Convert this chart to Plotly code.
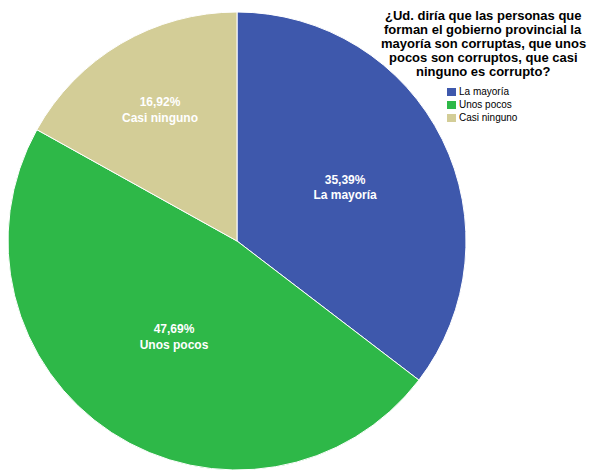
import plotly.graph_objects as go

categories = ["La mayoría", "Unos pocos", "Casi ninguno"]
percent = [35.39, 47.69, 16.92]
percent_text = ["35,39%", "47,69%", "16,92%"]
colors = ["#3e58ac", "#2eb848", "#d3cd97"]

title_lines = [
    "¿Ud. diría que las personas que",
    "forman el gobierno provincial la",
    "mayoría son corruptas, que unos",
    "pocos son corruptos, que casi",
    "ninguno es corrupto?",
]

W, H = 598, 471
M_T = 4
FONT = "Liberation Sans, Arial"


def px(x):
    # page pixel -> paper x (page has an 8px body margin)
    return (x - 8) / W


def py(y):
    return 1 - (y - 8 - M_T) / (H - M_T)


fig = go.Figure(
    go.Pie(
        labels=categories,
        values=percent,
        text=percent_text,
        texttemplate="<b>%{text}<br>%{label}</b>",
        textposition="inside",
        insidetextorientation="horizontal",
        textfont=dict(color="white", size=12, family=FONT),
        marker=dict(colors=colors, line=dict(color="white", width=1)),
        sort=False,
        direction="clockwise",
        rotation=0,
        showlegend=False,
        domain=dict(x=[0, 458 / W], y=[1 - 458 / (H - M_T), 1]),
    )
)

# title, one annotation per line for tight line spacing
for i, line in enumerate(title_lines):
    fig.add_annotation(
        text=f"<b>{line}</b>",
        xref="paper", yref="paper",
        x=px(483), y=py(16 + 14 * i),
        xanchor="center", yanchor="middle",
        showarrow=False,
        font=dict(color="black", size=13, family=FONT),
    )

# compact legend
for i, (cat, col) in enumerate(zip(categories, colors)):
    cy = 92 + 13 * i
    fig.add_shape(
        type="rect", xref="paper", yref="paper",
        x0=px(447), x1=px(456), y0=py(cy + 4), y1=py(cy - 4),
        fillcolor=col, line=dict(width=0),
    )
    fig.add_annotation(
        text=cat,
        xref="paper", yref="paper",
        x=px(457), y=py(cy),
        xanchor="left", yanchor="middle",
        showarrow=False,
        font=dict(color="black", size=10, family=FONT),
    )

fig.update_layout(
    width=W,
    height=H,
    paper_bgcolor="white",
    plot_bgcolor="white",
    margin=dict(l=0, r=0, t=M_T, b=0),
    font=dict(family=FONT, color="black"),
)

fig.write_html("out.html")
